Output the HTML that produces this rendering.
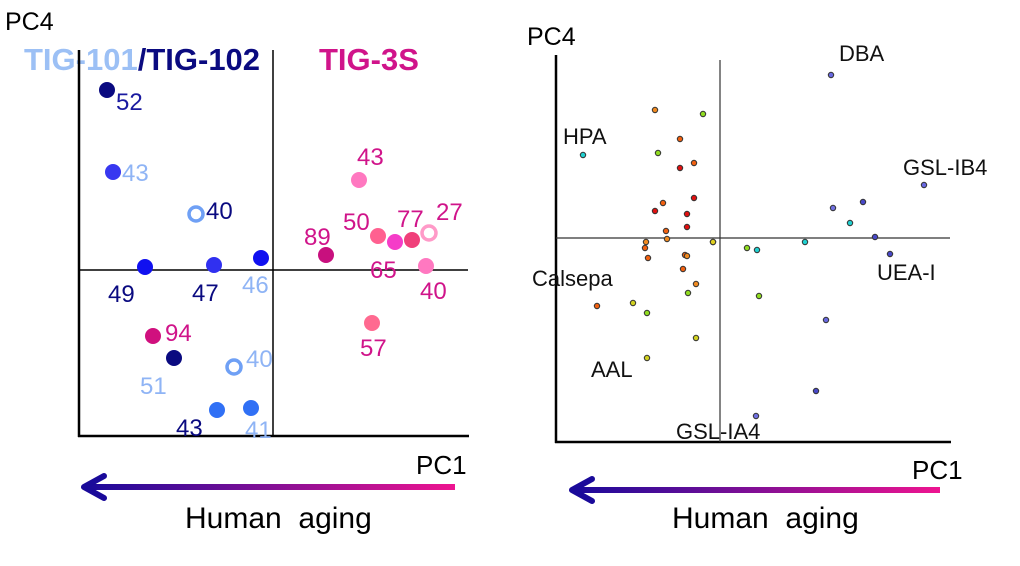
<!DOCTYPE html>
<html><head><meta charset="utf-8"><style>
body{margin:0;background:#fff;width:1020px;height:566px;overflow:hidden}
svg{display:block;font-family:"Liberation Sans",sans-serif}
</style></head><body>
<svg id="s" width="1020" height="566">
<defs>
<linearGradient id="g1" gradientUnits="userSpaceOnUse" x1="88" y1="0" x2="455" y2="0"><stop offset="0" stop-color="#1a0a9a"/><stop offset="1" stop-color="#ee1490"/></linearGradient>
<linearGradient id="g2" gradientUnits="userSpaceOnUse" x1="576" y1="0" x2="940" y2="0"><stop offset="0" stop-color="#1a0a9a"/><stop offset="1" stop-color="#ee1490"/></linearGradient>
</defs>
<g>
<text x="5" y="30" font-size="25">PC4</text>
<text x="24" y="70" font-size="31" font-weight="bold"><tspan fill="#9cc0f5">TIG-101</tspan><tspan fill="#0a0a80">/TIG-102</tspan></text>
<text x="319" y="70" font-size="31" font-weight="bold" fill="#d0148a">TIG-3S</text>
<line x1="79" y1="50" x2="79" y2="437" stroke="#000" stroke-width="2.5"/>
<line x1="78" y1="436" x2="469" y2="436" stroke="#000" stroke-width="2.5"/>
<line x1="273" y1="50" x2="273" y2="437" stroke="#000" stroke-width="1.5"/>
<line x1="79" y1="270" x2="468" y2="270" stroke="#000" stroke-width="1.5"/>
<text x="416" y="474" font-size="26">PC1</text>
<rect x="88" y="484" width="367" height="6" fill="url(#g1)"/>
<path d="M104 476 L84 487 L104 498" fill="none" stroke="#1a0a9a" stroke-width="6" stroke-linecap="round" stroke-linejoin="round"/>
<text x="185" y="528" font-size="30">Human&#160; aging</text>
</g>
<g>
<text x="527" y="45" font-size="25">PC4</text>
<line x1="556" y1="55" x2="556" y2="443" stroke="#000" stroke-width="2.5"/>
<line x1="555" y1="442" x2="951" y2="442" stroke="#000" stroke-width="2.5"/>
<line x1="720" y1="60" x2="720" y2="442" stroke="#333" stroke-width="1.2"/>
<line x1="556" y1="238" x2="950" y2="238" stroke="#333" stroke-width="1.2"/>
<text x="912" y="479" font-size="26">PC1</text>
<rect x="576" y="487" width="364" height="6" fill="url(#g2)"/>
<path d="M592 479 L572 490 L592 501" fill="none" stroke="#1a0a9a" stroke-width="6" stroke-linecap="round" stroke-linejoin="round"/>
<text x="672" y="528" font-size="30">Human&#160; aging</text>
</g>
</svg>
<script>
// Left chart: PC1/PC4 scores (units relative to origin)
const leftX=[-166,-160,-77,-128,-59,-12,-120,-99,-39,-56,-22,53,86,105,122,139,156,153,99];
const leftY=[180,98,56,3,5,12,-66,-88,-97,-140,-138,15,90,34,28,30,37,4,-53];
const leftLabels=["52","43","40","49","47","46","94","51","40","43","41","89","43","50","65","77","27","40","57"];
const leftFill=["#0a0a80","#3838f0","none","#1010f0","#3030f0","#1010f0","#d0107e","#0a0a80","none","#3070f5","#3070f5","#c8107e","#ff78c0","#ff6090","#f53cc8","#f0407a","none","#ff78c0","#ff6a90"];
const leftLabelCol=["#1a1aa0","#8fb4f5","#0a0a80","#0a0a80","#0a0a80","#8fb4f5","#d0148a","#8fb4f5","#8fb4f5","#0a0a80","#8fb4f5","#d0148a","#d0148a","#d0148a","#d0148a","#d0148a","#d0148a","#d0148a","#d0148a"];
const leftDx=[9,9,10,-37,-22,-19,12,-34,12,-41,-6,-22,-2,-35,-25,-15,7,-6,-12];
const leftDy=[20,9,5,35,36,35,5,36,0,26,30,-10,-15,-6,36,-13,-13,33,33];
// Right chart: lectin loadings
const rightX=[111,-137,204,113,143,130,155,170,-65,-17,-40,-62,-26,-40,-26,-57,-33,-65,-33,-7,-54,-53,-74,-75,-7,27,37,85,-72,-35,-33,-37,-24,-32,39,-123,-87,-73,-24,-73,106,96,36];
const rightY=[163,83,53,30,36,15,1,-16,128,124,99,85,75,70,40,35,24,27,11,-4,7,-1,-4,-10,-4,-10,-12,-4,-20,-17,-18,-31,-46,-55,-58,-68,-65,-75,-100,-120,-82,-153,-178];
const rightCol=["#6868e0","#20d0d0","#6868e0","#7070e0","#4848c8","#20d0d0","#4848c8","#4848c8","#f08a20","#90dc20","#f06010","#90dc20","#f06010","#e01010","#e01010","#f06010","#e01010","#e01010","#e01010","#90dc20","#f06010","#f08a20","#f08a20","#f06010","#e0d020","#90dc20","#20d0d0","#20d0d0","#f06010","#f06010","#f08a20","#f06010","#f08a20","#90dc20","#90dc20","#f06010","#d0d020","#90dc20","#d0d020","#d0d020","#6868e0","#4848c8","#7070e0"];
const rightNames=["DBA","HPA","GSL-IB4","UEA-I","Calsepa","AAL","GSL-IA4"];
const rightNameX=[119,-157,183,157,-188,-129,-44];
const rightNameY=[177,94,63,-42,-48,-139,-201];

const L={ox:273,oy:270}, R={ox:720,oy:238};
function sx(a,v){return a.ox+v;}
function sy(a,v){return a.oy-v;}
const svg=document.getElementById('s');
const NS='http://www.w3.org/2000/svg';
function mk(t,attrs){const e=document.createElementNS(NS,t);for(const k in attrs)e.setAttribute(k,attrs[k]);svg.appendChild(e);return e;}
leftX.forEach((v,i)=>{
  const open=leftFill[i]==='none';
  const c=mk('circle',{cx:sx(L,v),cy:sy(L,leftY[i]),r:open?7:8,fill:open?'none':leftFill[i],stroke:open?(i===16?'#ff9ac8':'#6fa0f5'):'none','stroke-width':open?3.5:0});
  
  
  const t=mk('text',{x:sx(L,v)+leftDx[i],y:sy(L,leftY[i])+leftDy[i],'font-size':24,fill:leftLabelCol[i]});
  t.textContent=leftLabels[i];
  
  
});
rightX.forEach((v,i)=>{
  const c=mk('circle',{cx:sx(R,v),cy:sy(R,rightY[i]),r:2.7,fill:rightCol[i],stroke:'#333','stroke-width':1});
  
  
});
rightNames.forEach((n,i)=>{
  const t=mk('text',{x:sx(R,rightNameX[i]),y:sy(R,rightNameY[i]),'font-size':22,fill:'#111'});
  t.textContent=n;
  
  
});
</script>
</body></html>
